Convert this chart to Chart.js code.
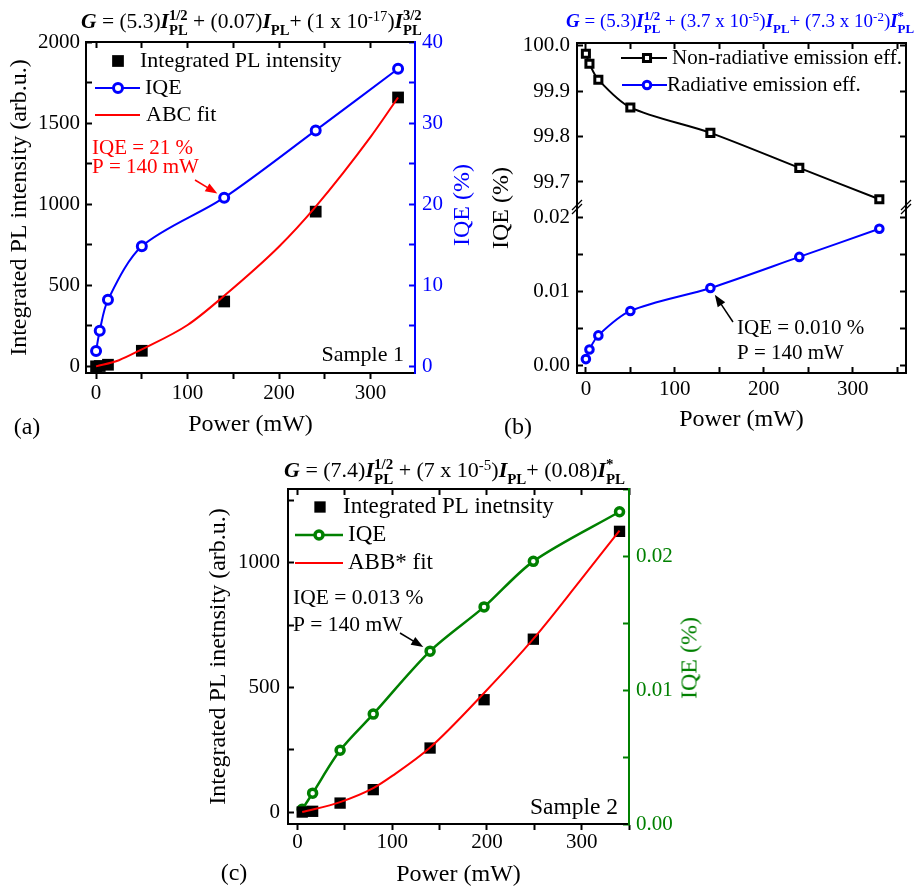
<!DOCTYPE html>
<html>
<head>
<meta charset="utf-8">
<script src="https://cdn.jsdelivr.net/npm/chart.js@4.4.1/dist/chart.umd.min.js"></script>
<style>
  body { margin: 0; width: 922px; height: 889px; background: #fff; position: relative; overflow: hidden;
         font-family: 'Liberation Serif', 'Times New Roman', serif; color: #000; }
  canvas { position: absolute; }
  .eq { position: absolute; white-space: nowrap; line-height: 1; }
  .ss { display: inline-flex; flex-direction: column; vertical-align: middle; font-size: 0.68em; font-weight: bold; line-height: 1; }
  .eq sup { font-size: 0.68em; vertical-align: 0.45em; line-height: 0; }
  .ctr { position: absolute; white-space: nowrap; font-size: 24px; transform: translate(-50%, -50%); }
  .rot { position: absolute; white-space: nowrap; font-size: 24px; transform: translate(-50%, -50%) rotate(-90deg); }
</style>
</head>
<body>
<canvas id="ca" width="470" height="445" style="left:0;top:0"></canvas>
<canvas id="cb" width="452" height="445" style="left:470px;top:0"></canvas>
<canvas id="cc" width="480" height="449" style="left:200px;top:440px"></canvas>

<div class="eq" style="left:81px;top:8px;font-size:21.5px"><b><i>G</i></b> = (5.3)<b><i>I</i></b><span class="ss"><span>1/2</span><span>PL</span></span> + (0.07)<b><i>I</i></b><span class="ss"><span>&nbsp;</span><span>PL</span></span>+ (1 x 10<sup>-17</sup>)<b><i>I</i></b><span class="ss"><span>3/2</span><span>PL</span></span></div>
<div class="eq" style="left:566px;top:10px;font-size:19px;color:#0000ff"><b><i>G</i></b> = (5.3)<b><i>I</i></b><span class="ss"><span>1/2</span><span>PL</span></span> + (3.7 x 10<sup>-5</sup>)<b><i>I</i></b><span class="ss"><span>&nbsp;</span><span>PL</span></span>+ (7.3 x 10<sup>-2</sup>)<b><i>I</i></b><span class="ss"><span>*</span><span>PL</span></span></div>
<div class="eq" style="left:284px;top:457px;font-size:22px"><b><i>G</i></b> = (7.4)<b><i>I</i></b><span class="ss"><span>1/2</span><span>PL</span></span> + (7 x 10<sup>-5</sup>)<b><i>I</i></b><span class="ss"><span>&nbsp;</span><span>PL</span></span>+ (0.08)<b><i>I</i></b><span class="ss"><span>*</span><span>PL</span></span></div>

<div class="rot" style="left:461px;top:205px;color:#0000ff">IQE (%)</div>
<div class="rot" style="left:500px;top:208px">IQE (%)</div>
<div class="rot" style="left:689px;top:658px;color:#008000">IQE (%)</div>
<div class="ctr" style="left:27px;top:426px">(a)</div>
<div class="ctr" style="left:518px;top:426px">(b)</div>
<div class="ctr" style="left:234px;top:872px">(c)</div>

<script>
// (a) Sample 1
const powerA = [0, 4, 13, 50, 140, 240, 330];
const plA = [0, 2, 10, 96, 400, 954, 1658];
const iqeA = [1.9, 4.4, 8.2, 14.8, 20.8, 29.1, 36.7];
const fitPowerA = [0, 25, 50, 100, 140, 200, 240, 300, 330];
const fitA = [0, 38, 105, 255, 435, 739, 985, 1415, 1658];

// (b) Sample 1, emission efficiencies
const powerB = [0, 4, 14, 50, 140, 240, 330];
const nonRadB = [99.982, 99.960, 99.925, 99.864, 99.808, 99.731, 99.662];
const radB = [0.0009, 0.0022, 0.0041, 0.0074, 0.0105, 0.0147, 0.0185];

// (c) Sample 2
const powerC = [5, 16, 45, 80, 140, 197, 249, 340];
const plC = [0, 3, 36, 90, 257, 451, 694, 1127];
const iqeC = [0.0011, 0.0023, 0.0055, 0.0082, 0.0129, 0.0162, 0.0196, 0.0233];
const fitPowerC = [5, 45, 80, 100, 140, 197, 249, 298, 340];
const fitC = [0, 40, 96, 145, 259, 478, 695, 927, 1130];

// tick labels
const xTicks = [0, 100, 200, 300];
const yTicksA = [0, 500, 1000, 1500, 2000];
const iqeTicksA = [0, 10, 20, 30, 40];
const upperTicksB = [99.7, 99.8, 99.9, 100.0];
const lowerTicksB = [0, 0.01, 0.02];
const yTicksC = [0, 500, 1000];
const iqeTicksC = [0, 0.01, 0.02];

const FONT = "'Liberation Serif', 'Times New Roman', serif";
const BLUE = '#0000ff', RED = '#ff0000', GREEN = '#008000';
Chart.defaults.font.family = FONT;
Chart.defaults.color = '#000';

const xy = (xs, ys) => xs.map((x, i) => ({ x, y: ys[i] }));
const only = (list, dec = 0) => (v) => list.some(t => Math.abs(t - v) < 1e-9) ? v.toFixed(dec) : '';

// one axis; a tick every `step` (major and minor alike), labels only on the listed values
const axis = (o) => {
  const color = o.color || '#000';
  return {
    type: 'linear', position: o.pos, min: o.min, max: o.max,
    stack: o.stack, stackWeight: o.sw, weight: o.weight || 0,
    border: { display: true, color, width: 2 },
    grid: { drawOnChartArea: false, tickLength: o.tl, tickWidth: 2, tickColor: color },
    ticks: {
      stepSize: o.step, autoSkip: false, maxRotation: 0,
      display: !!o.labels, color, padding: o.pad || 0, font: { size: 21 },
      callback: o.labels ? only(o.labels, o.dec) : () => ''
    },
    title: { display: !!o.title, text: o.title || '', color, font: { size: 24, lineHeight: 1 }, padding: o.tpad || 0 },
    afterBuildTicks: (s) => {
      const ticks = [];
      for (let k = Math.ceil(o.min / o.step - 1e-6); k <= Math.floor(o.max / o.step + 1e-6); k++) {
        ticks.push({ value: +(k * o.step).toFixed(6) });
      }
      s.ticks = ticks;
    },
    afterFit: (s) => {
      if (o.w !== undefined) s.width = o.w;
      if (o.h !== undefined) s.height = o.h;
    }
  };
};

// canvas helpers for legends and notes
const label = (ctx, s, x, y, px, color = '#000', align = 'left') => {
  ctx.font = `${px}px ${FONT}`;
  ctx.fillStyle = color;
  ctx.textAlign = align;
  ctx.textBaseline = 'middle';
  ctx.fillText(s, x, y);
};
const seg = (ctx, x1, y1, x2, y2, color, lw) => {
  ctx.strokeStyle = color;
  ctx.lineWidth = lw;
  ctx.beginPath();
  ctx.moveTo(x1, y1);
  ctx.lineTo(x2, y2);
  ctx.stroke();
};
const marker = (ctx, kind, x, y, r, color, lw) => {
  ctx.lineWidth = lw;
  ctx.strokeStyle = color;
  ctx.fillStyle = kind === 'sq' ? color : '#fff';
  ctx.beginPath();
  if (kind === 'c') ctx.arc(x, y, r, 0, Math.PI * 2);
  else {
    const h = r * Math.SQRT1_2;
    ctx.rect(x - h, y - h, 2 * h, 2 * h);
  }
  ctx.fill();
  if (kind !== 'sq') ctx.stroke();
};
// arrow from (x1,y1) towards a data point, stopping short of the marker
const arrow = (ctx, x1, y1, px, py, color) => {
  const a = Math.atan2(py - y1, px - x1);
  const x2 = px - 8 * Math.cos(a), y2 = py - 8 * Math.sin(a);
  seg(ctx, x1, y1, x2 - 8 * Math.cos(a), y2 - 8 * Math.sin(a), color, 1.5);
  ctx.fillStyle = color;
  ctx.beginPath();
  ctx.moveTo(x2, y2);
  ctx.lineTo(x2 - 12 * Math.cos(a) + 4.5 * Math.sin(a), y2 - 12 * Math.sin(a) - 4.5 * Math.cos(a));
  ctx.lineTo(x2 - 12 * Math.cos(a) - 4.5 * Math.sin(a), y2 - 12 * Math.sin(a) + 4.5 * Math.cos(a));
  ctx.closePath();
  ctx.fill();
};
const decor = (draw) => ({
  id: 'decor',
  afterDraw: (chart) => {
    const ctx = chart.ctx;
    ctx.save();
    draw(ctx, chart);
    ctx.restore();
  }
});

const base = {
  responsive: false, animation: false,
  layout: { padding: 0 },
  plugins: { legend: { display: false }, tooltip: { enabled: false } }
};

// (a)
new Chart(document.getElementById('ca'), {
  type: 'scatter',
  data: {
    datasets: [
      { data: xy(fitPowerA, fitA), yAxisID: 'y', showLine: true, borderColor: RED, borderWidth: 2,
        pointRadius: 0, cubicInterpolationMode: 'monotone' },
      { data: xy(powerA, plA), yAxisID: 'y', pointStyle: 'rect', pointRadius: 8.3,
        backgroundColor: '#000', borderWidth: 0 },
      { data: xy(powerA, iqeA), yAxisID: 'yR', showLine: true, borderColor: BLUE, borderWidth: 2,
        pointRadius: 4.5, pointBorderWidth: 3, pointBackgroundColor: '#fff', pointBorderColor: BLUE,
        tension: 0.3 }
    ]
  },
  options: {
    ...base,
    scales: {
      x: axis({ pos: 'bottom', min: -11, max: 348.5, step: 50, labels: xTicks, tl: 6, pad: 2, h: 72,
                title: 'Power (mW)', tpad: { top: 0, bottom: 8.5 } }),
      xt: axis({ pos: 'top', min: -11, max: 348.5, step: 50, tl: -6, h: 42 }),
      y: axis({ pos: 'left', min: -41, max: 2000, step: 250, labels: yTicksA, tl: -6, pad: 12, w: 86,
                title: 'Integrated PL intensity (arb.u.)', tpad: { top: 8, bottom: 0 } }),
      yR: axis({ pos: 'right', min: -0.82, max: 40, step: 5, labels: iqeTicksA, tl: -6, pad: 13, w: 55, color: BLUE })
    }
  },
  plugins: [decor((ctx, chart) => {
    marker(ctx, 'sq', 118, 61, 8.3, '#000', 0);
    label(ctx, 'Integrated PL intensity', 140, 61, 22);
    seg(ctx, 95, 88, 140, 88, BLUE, 2);
    marker(ctx, 'c', 118, 88, 4.5, BLUE, 3);
    label(ctx, 'IQE', 145, 88, 22);
    seg(ctx, 95, 115, 140, 115, RED, 2);
    label(ctx, 'ABC fit', 146, 115, 22);
    label(ctx, 'IQE = 21 %', 92, 148, 21, RED);
    label(ctx, 'P = 140 mW', 92, 167, 21, RED);
    const i = powerA.indexOf(140);
    arrow(ctx, 195, 180, chart.scales.x.getPixelForValue(powerA[i]), chart.scales.yR.getPixelForValue(iqeA[i]), RED);
    label(ctx, 'Sample 1', 404, 355, 22, '#000', 'right');
  })]
});

// (b) broken y axis: two stacked scales on each side
new Chart(document.getElementById('cb'), {
  type: 'scatter',
  data: {
    datasets: [
      { data: xy(powerB, nonRadB), yAxisID: 'yU', showLine: true, borderColor: '#000', borderWidth: 2,
        pointStyle: 'rect', pointRadius: 5, pointBorderWidth: 3, pointBackgroundColor: '#fff',
        pointBorderColor: '#000', tension: 0.3 },
      { data: xy(powerB, radB), yAxisID: 'yL', showLine: true, borderColor: BLUE, borderWidth: 2,
        pointRadius: 3.8, pointBorderWidth: 3, pointBackgroundColor: '#fff', pointBorderColor: BLUE,
        tension: 0.3 }
    ]
  },
  options: {
    ...base,
    scales: {
      x: axis({ pos: 'bottom', min: -10, max: 360, step: 50, labels: xTicks, tl: -6, pad: 10, h: 72,
                title: 'Power (mW)', tpad: { top: 0, bottom: 13 } }),
      xt: axis({ pos: 'top', min: -10, max: 360, step: 50, tl: -6, h: 43 }),
      yU: axis({ pos: 'left', stack: 'L', sw: 164, weight: 2, min: 99.645, max: 100.0057, step: 0.1,
                 labels: upperTicksB, dec: 1, tl: -6, pad: 13, w: 107 }),
      yL: axis({ pos: 'left', stack: 'L', sw: 166, weight: 1, min: -0.00098, max: 0.02144, step: 0.005,
                 labels: lowerTicksB, dec: 2, tl: -6, pad: 13, w: 107 }),
      yUR: axis({ pos: 'right', stack: 'R', sw: 164, weight: 1, min: 99.645, max: 100.0057, step: 0.1, tl: -6, w: 16 }),
      yLR: axis({ pos: 'right', stack: 'R', sw: 166, weight: 2, min: -0.00098, max: 0.02144, step: 0.005, tl: -6, w: 16 })
    }
  },
  plugins: [decor((ctx, chart) => {
    const a = chart.chartArea, yb = chart.scales.yL.top;
    for (const x of [a.left, a.right]) {
      seg(ctx, x - 5, yb + 3, x + 5, yb - 7, '#000', 1.2);
      seg(ctx, x - 5, yb + 7, x + 5, yb - 3, '#000', 1.2);
    }
    seg(ctx, 151, 58, 197, 58, '#000', 2);
    marker(ctx, 'osq', 177, 58, 5, '#000', 3);
    label(ctx, 'Non-radiative emission eff.', 202, 58, 21);
    seg(ctx, 152, 85, 197, 85, BLUE, 2);
    marker(ctx, 'c', 177, 85, 3.8, BLUE, 3);
    label(ctx, 'Radiative emission eff.', 197, 85, 21);
    label(ctx, 'IQE = 0.010 %', 267, 328, 21);
    label(ctx, 'P = 140 mW', 267, 353, 21);
    const i = powerB.indexOf(140);
    arrow(ctx, 263, 322, chart.scales.x.getPixelForValue(powerB[i]), chart.scales.yL.getPixelForValue(radB[i]), '#000');
  })]
});

// (c) Sample 2
new Chart(document.getElementById('cc'), {
  type: 'scatter',
  data: {
    datasets: [
      { data: xy(fitPowerC, fitC), yAxisID: 'y', showLine: true, borderColor: RED, borderWidth: 2,
        pointRadius: 0, cubicInterpolationMode: 'monotone' },
      { data: xy(powerC, plC), yAxisID: 'y', pointStyle: 'rect', pointRadius: 8,
        backgroundColor: '#000', borderWidth: 0 },
      { data: xy(powerC, iqeC), yAxisID: 'yR', showLine: true, borderColor: GREEN, borderWidth: 2.5,
        pointRadius: 4, pointBorderWidth: 3.5, pointBackgroundColor: '#fff', pointBorderColor: GREEN,
        tension: 0.3 }
    ]
  },
  options: {
    ...base,
    scales: {
      x: axis({ pos: 'bottom', min: -10, max: 350, step: 50, labels: xTicks, tl: 6, pad: 0, h: 65,
                title: 'Power (mW)', tpad: { top: 0, bottom: 2 } }),
      xt: axis({ pos: 'top', min: -10, max: 350, step: 50, tl: -6, h: 49 }),
      y: axis({ pos: 'left', min: -48, max: 1297, step: 250, labels: yTicksC, tl: -6, pad: 14, w: 88,
                title: 'Integrated PL inetnsity (arb.u.)', tpad: { top: 7, bottom: 0 } }),
      yR: axis({ pos: 'right', min: 0, max: 0.025, step: 0.005, labels: iqeTicksC, dec: 2, tl: -6, pad: 13, w: 51, color: GREEN })
    }
  },
  plugins: [decor((ctx, chart) => {
    marker(ctx, 'sq', 120, 67, 8, '#000', 0);
    label(ctx, 'Integrated PL inetnsity', 143, 67, 23);
    seg(ctx, 95, 95, 143, 95, GREEN, 2.5);
    marker(ctx, 'c', 119, 95, 4, GREEN, 3.5);
    label(ctx, 'IQE', 148, 95, 23);
    seg(ctx, 95, 123, 143, 123, RED, 2);
    label(ctx, 'ABB* fit', 148, 123, 23);
    label(ctx, 'IQE = 0.013 %', 93, 158, 21.5);
    label(ctx, 'P = 140 mW', 93, 185, 21.5);
    const i = powerC.indexOf(140);
    arrow(ctx, 200, 193, chart.scales.x.getPixelForValue(powerC[i]), chart.scales.yR.getPixelForValue(iqeC[i]), '#000');
    label(ctx, 'Sample 2', 418, 368, 23.5, '#000', 'right');
  })]
});
</script>
</body>
</html>
